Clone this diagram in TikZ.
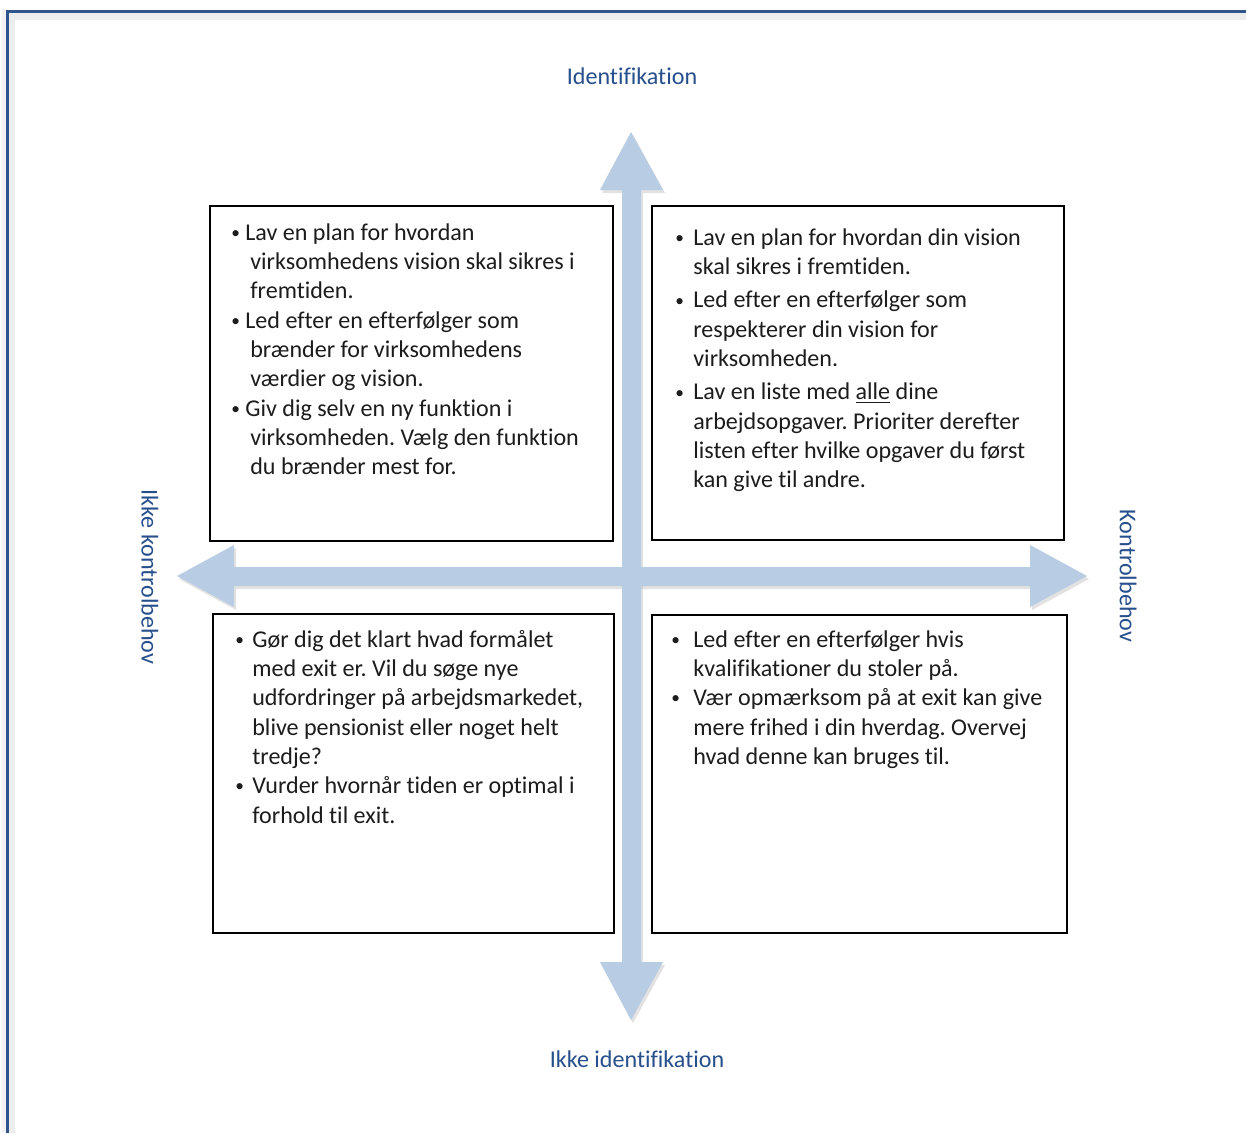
\documentclass[tikz,border=0pt]{standalone}
\usepackage{fontspec}
\setmainfont[Ligatures=NoCommon]{Carlito}
\usepackage{enumitem}
\frenchspacing
\definecolor{axisblue}{RGB}{184,204,228}
\definecolor{labelblue}{RGB}{38,79,140}
\definecolor{frameblue}{RGB}{47,85,140}
\definecolor{bodytext}{RGB}{28,28,28}
\newcommand{\smallbullet}{\raisebox{0.15ex}{\scalebox{0.72}{\textbullet}}}
\setlist[itemize]{label=\smallbullet, labelsep=0pt, align=left, topsep=0pt, partopsep=0pt, parsep=0pt, itemsep=0pt}
\tikzset{
  quadbox/.style={draw=black, line width=1.1pt, inner sep=0pt},
  quadtext/.style={inner sep=0pt, anchor=base west, text=bodytext, font=\fontsize{13.7}{16.7}\selectfont},
  axislabel/.style={inner sep=0pt, text=labelblue, font=\fontsize{13.7}{16}\selectfont},
  axisshadow/.style={fill=black!25, opacity=0.45},
}
\begin{document}
\begin{tikzpicture}[x=0.02cm, y=-0.02cm]
\useasboundingbox (0,0) rectangle (1246,1133);
\fill[white] (0,0) rectangle (1246,1133);
% frame
\fill[black!7] (9,1133) rectangle (15,13);
\fill[black!7] (9,13) rectangle (1246,20);
\fill[black!5] (2,1133) rectangle (6,9);
\draw[frameblue, line width=1.4pt] (7.5,1133) -- (7.5,11.5) -- (1246,11.5);
% axes
\fill[axisshadow, shift={(2,3)}] (631,132) -- (663,190) -- (641,190) -- (641,962) -- (663,962) -- (631,1020) -- (600,962) -- (622,962) -- (622,190) -- (600,190) -- cycle;
\fill[axisshadow, shift={(2,3)}] (177,576) -- (234,545) -- (234,567) -- (1030,567) -- (1030,545) -- (1087,576) -- (1030,607) -- (1030,586) -- (234,586) -- (234,607) -- cycle;
\fill[axisblue] (177,576) -- (234,545) -- (234,567) -- (1030,567) -- (1030,545) -- (1087,576) -- (1030,607) -- (1030,586) -- (234,586) -- (234,607) -- cycle;
\fill[axisblue] (631,132) -- (663,190) -- (641,190) -- (641,962) -- (663,962) -- (631,1020) -- (600,962) -- (622,962) -- (622,190) -- (600,190) -- cycle;
% axis labels
\node[axislabel] (ident) at (632,76) {Identifikation};
\node[axislabel] (nonident) at (637,1059) {Ikke identifikation};
\node[axislabel, rotate=-90] (noncontrol) at (150,577) {Ikke kontrolbehov};
\node[axislabel, rotate=-90] (control) at (1128,576) {Kontrolbehov};
% quadrants
\node[quadbox, minimum width=8.06cm, minimum height=6.7cm] (tl) at (411.5,373.5) {};
\node[quadbox, minimum width=8.24cm, minimum height=6.68cm] (tr) at (858,373) {};
\node[quadbox, minimum width=8.02cm, minimum height=6.38cm] (bl) at (413.5,773.5) {};
\node[quadbox, minimum width=8.3cm, minimum height=6.36cm] (br) at (859.5,774) {};
\node[quadtext] (tltext) at (231,240) {\begin{minipage}[t]{7.6cm}
\begin{itemize}[leftmargin=0.38cm, itemindent=-0.1cm, labelwidth=0.28cm]
\item Lav en plan for hvordan\newline virksomhedens vision skal sikres i\newline fremtiden.
\item Led efter en efterfølger som\newline brænder for virksomhedens\newline værdier og vision.
\item Giv dig selv en ny funktion i\newline virksomheden. Vælg den funktion\newline du brænder mest for.
\end{itemize}\end{minipage}};
\node[quadtext] (trtext) at (675,245) {\begin{minipage}[t]{7.6cm}
\begin{itemize}[leftmargin=0.36cm, labelwidth=0.36cm, itemsep=2.3pt]
\item Lav en plan for hvordan din vision\newline skal sikres i fremtiden.
\item Led efter en efterfølger som\newline respekterer din vision for\newline virksomheden.
\item Lav en liste med \underline{alle} dine\newline arbejdsopgaver. Prioriter derefter\newline listen efter hvilke opgaver du først\newline kan give til andre.
\end{itemize}\end{minipage}};
\node[quadtext] (bltext) at (235,647) {\begin{minipage}[t]{7.6cm}
\begin{itemize}[leftmargin=0.34cm, labelwidth=0.34cm]
\item Gør dig det klart hvad formålet\newline med exit er. Vil du søge nye\newline udfordringer på arbejdsmarkedet,\newline blive pensionist eller noget helt\newline tredje?
\item Vurder hvornår tiden er optimal i\newline forhold til exit.
\end{itemize}\end{minipage}};
\node[quadtext] (brtext) at (671,647) {\begin{minipage}[t]{7.6cm}
\begin{itemize}[leftmargin=0.44cm, labelwidth=0.44cm]
\item Led efter en efterfølger hvis\newline kvalifikationer du stoler på.
\item Vær opmærksom på at exit kan give\newline mere frihed i din hverdag. Overvej\newline hvad denne kan bruges til.
\end{itemize}\end{minipage}};
\end{tikzpicture}
\end{document}
